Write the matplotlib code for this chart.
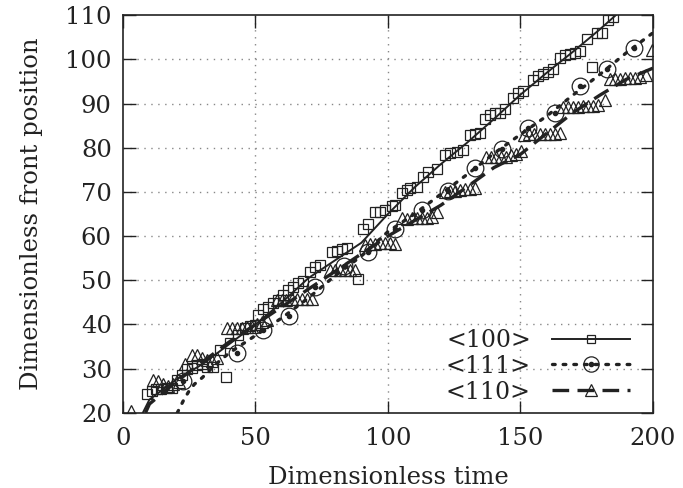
import matplotlib
matplotlib.use("Agg")
import matplotlib.pyplot as plt
from matplotlib.lines import Line2D
from matplotlib.ticker import MultipleLocator

# <100> data points (squares)
sq_t = [8.9, 10.9, 12.5, 14.5, 16.5, 18.4, 20.3, 22.2, 24.0, 25.9, 27.8, 29.7, 31.7, 33.8,
        36.6, 38.9, 40.4, 43.4, 46.0, 47.9, 49.8, 51.1, 52.9, 54.8, 56.7, 58.6, 60.5, 62.4,
        64.3, 66.2, 68.0, 70.6, 72.5, 74.3, 78.8, 80.6, 82.5, 84.4, 88.8, 90.7, 92.6, 95.1,
        97.0, 98.9, 101.4, 102.6, 105.2, 107.1, 108.3, 110.8, 113.1, 115.2, 118.4, 121.5,
        123.4, 125.9, 128.4, 130.9, 132.8, 134.7, 136.6, 138.5, 140.4, 142.3, 144.2, 147.3,
        149.2, 151.1, 154.8, 156.7, 158.6, 160.5, 162.4, 164.9, 166.8, 168.7, 170.6, 172.5,
        175.0, 176.9, 178.8, 180.6, 183.1, 184.8]
sq_y = [24.3, 25.0, 25.4, 25.5, 25.6, 25.6, 27.5, 28.5, 29.9, 30.2, 30.8, 31.0, 30.4, 30.4,
        34.2, 28.2, 35.8, 37.6, 39.2, 39.6, 39.9, 42.1, 43.4, 44.0, 44.8, 45.5, 46.7, 47.8,
        48.5, 49.3, 49.8, 51.9, 53.1, 53.4, 56.4, 56.7, 57.0, 57.2, 50.2, 61.7, 62.7, 65.5,
        65.5, 65.9, 66.8, 67.0, 69.8, 70.4, 70.8, 71.2, 73.4, 74.5, 75.1, 78.3,
        78.8, 79.1, 79.5, 82.9, 83.1, 83.4, 86.6, 87.4, 87.8, 87.9, 88.7, 91.2,
        92.3, 92.9, 95.3, 96.2, 96.7, 97.2, 97.7, 100.2, 101.0, 101.2, 101.5, 101.9,
        104.7, 98.3, 105.9, 106.0, 108.9, 109.6]

# <111> data points (circles)
ci_t = [22.8, 42.9, 52.9, 62.8, 72.5, 83.5, 92.6, 102.6, 112.7, 122.8, 132.8, 142.9,
        153.0, 163.0, 172.5, 182.5, 192.8]
ci_y = [27.2, 33.6, 38.7, 41.9, 48.5, 53.2, 56.4, 61.5, 66.0, 70.2, 75.5, 79.7,
        84.4, 87.8, 93.9, 97.7, 102.5]

# <110> data points (triangles)
tr_t = [3.0, 11.4, 13.3, 15.2, 17.1, 19.0, 21.0, 23.5, 25.9, 27.8, 29.7, 31.6, 33.5, 35.4,
        39.1, 41.0, 42.9, 44.8, 46.7, 48.6, 50.5, 52.4, 54.3,
        58.0, 59.9, 61.7, 63.7, 65.5, 67.4, 69.3, 71.2,
        78.0, 79.9, 81.8, 83.7, 85.6, 87.5,
        91.3, 93.2, 95.1, 97.0, 98.9, 100.8, 102.6,
        105.2, 107.1, 108.9, 110.8, 112.7, 114.6, 116.5, 118.4,
        121.5, 123.4, 125.3, 127.2, 129.1, 131.0, 132.9,
        137.0, 138.9, 140.8, 142.7, 144.6, 146.5, 148.4, 150.3,
        151.5, 153.4, 155.3, 157.2, 159.1, 161.0, 162.9, 164.8,
        166.2, 168.1, 170.0, 171.8, 173.7, 175.6, 177.5, 179.4, 181.9,
        183.8, 185.7, 187.5, 189.4, 191.3, 193.2, 195.1, 197.4, 199.5]
tr_y = [20.5, 27.4, 27.3, 26.5, 26.0, 26.5, 27.0, 31.0, 33.1, 33.2, 32.5, 32.0, 31.8, 32.5,
        39.1, 39.1, 39.3, 39.3, 39.4, 39.5, 40.0, 40.5, 41.0,
        45.5, 45.5, 45.5, 45.7, 45.8, 45.7, 45.8, 45.8,
        52.3, 52.3, 52.3, 52.3, 52.3, 52.3,
        58.0, 58.2, 58.3, 58.5, 58.5, 58.5, 58.3,
        64.0, 63.8, 64.0, 64.0, 64.0, 64.0, 64.4, 65.5,
        70.0, 70.2, 70.3, 70.5, 70.6, 70.7, 70.9,
        78.0, 78.0, 78.0, 78.0, 78.0, 78.3, 78.5, 79.3,
        82.8, 83.0, 83.0, 83.0, 83.0, 83.1, 83.2, 83.3,
        89.1, 89.3, 89.3, 89.3, 89.4, 89.4, 89.4, 89.6, 90.9,
        95.5, 95.5, 95.5, 95.7, 95.7, 95.8, 96.0, 96.4, 102.1]

# fitted curves
fit100_t = [7.5, 10, 20, 30, 40, 50, 60, 70, 80, 90, 100, 110, 120, 130, 140, 150, 160, 170, 180, 186]
fit100_y = [20, 23, 27.5, 31, 35.5, 40, 45, 50.5, 54.5, 58.5, 65, 71, 76.3, 81.2, 86.5, 92, 97, 101.8, 106.8, 110]
fit111_t = [20.5, 23, 25, 27, 30, 35, 40, 50, 60, 70, 80, 90, 100, 110, 120, 130, 140, 150, 160, 170, 180, 190, 200]
fit111_y = [20, 23, 25, 26.5, 28, 31, 33.5, 37.5, 41.5, 46, 51, 55.5, 61, 65, 69.5, 74, 78.7, 83, 87.2, 92, 96.6, 101.5, 106]
fit110_t = [8.5, 10, 20, 30, 40, 50, 60, 70, 80, 90, 100, 110, 120, 130, 140, 150, 160, 170, 180, 190, 200]
fit110_y = [20, 22, 27, 31.5, 36, 40, 44, 48, 52, 56, 60, 63.5, 67, 71.2, 75.5, 78.5, 83.3, 88, 91.9, 95.5, 98]

ink = "#222222"
plt.rcParams["font.family"] = "DejaVu Serif"
plt.rcParams["font.size"] = 17.5

fig = plt.figure(figsize=(6.83, 4.88), dpi=100)
ax = fig.add_axes([0.180, 0.154, 0.776, 0.815])

ax.plot(fit100_t, fit100_y, color=ink, lw=1.4, ls="-")
ax.plot(fit111_t, fit111_y, color=ink, lw=2.4, ls=(0, (0.8, 2.4)), dash_capstyle="round")
ax.plot(fit110_t, fit110_y, color=ink, lw=2.4, ls=(0, (5, 2.5)))

ax.plot(sq_t, sq_y, ls="none", marker="s", ms=6.5, mfc="none", mec=ink, mew=0.9)
ax.plot(ci_t, ci_y, ls="none", marker="o", ms=12, mfc="none", mec=ink, mew=0.9)
ax.plot(ci_t, ci_y, ls="none", marker="o", ms=3, mfc=ink, mec=ink)
ax.plot(tr_t, tr_y, ls="none", marker="^", ms=8, mfc="none", mec=ink, mew=0.9)

ax.set_xlim(0, 200)
ax.set_ylim(20, 110)
ax.xaxis.set_major_locator(MultipleLocator(50))
ax.yaxis.set_major_locator(MultipleLocator(10))
ax.tick_params(direction="in", length=9, width=1, top=True, right=True, colors=ink,
               labelsize=17.5, pad=10)
ax.tick_params(axis="y", pad=8)
for g in [50, 100, 150]:
    ax.axvline(g, color="#888888", lw=1, ls=(0, (1, 4)), zorder=0)
for g in range(30, 110, 10):
    ax.axhline(g, color="#888888", lw=1, ls=(0, (1, 4)), zorder=0)
for s in ax.spines.values():
    s.set_color(ink)
    s.set_linewidth(1.2)

ax.set_xlabel("Dimensionless time", color=ink, labelpad=12)
ax.set_ylabel("Dimensionless front position", color=ink, labelpad=16)

h100 = Line2D([], [], color=ink, lw=1.4, marker="s", ms=6, mfc="none", mec=ink, mew=0.9)
h111a = Line2D([], [], color=ink, lw=2.4, ls=(0, (0.8, 2.4)), dash_capstyle="round",
               marker="o", ms=11, mfc="none", mec=ink, mew=0.9)
h111b = Line2D([], [], ls="none", marker="o", ms=3, mfc=ink, mec=ink)
h110 = Line2D([], [], color=ink, lw=2.4, ls=(0, (5, 2.5)), marker="^", ms=9, mfc="none",
              mec=ink, mew=0.9)
ax.legend([h100, (h111a, h111b), h110], ["<100>", "<111>", "<110>"], loc="lower right",
          bbox_to_anchor=(0.997, -0.03), frameon=False, markerfirst=False,
          handlelength=3.3, labelspacing=0.12, handletextpad=0.9, fontsize=17,
          labelcolor=ink)

fig.savefig("out.png", dpi=100)
